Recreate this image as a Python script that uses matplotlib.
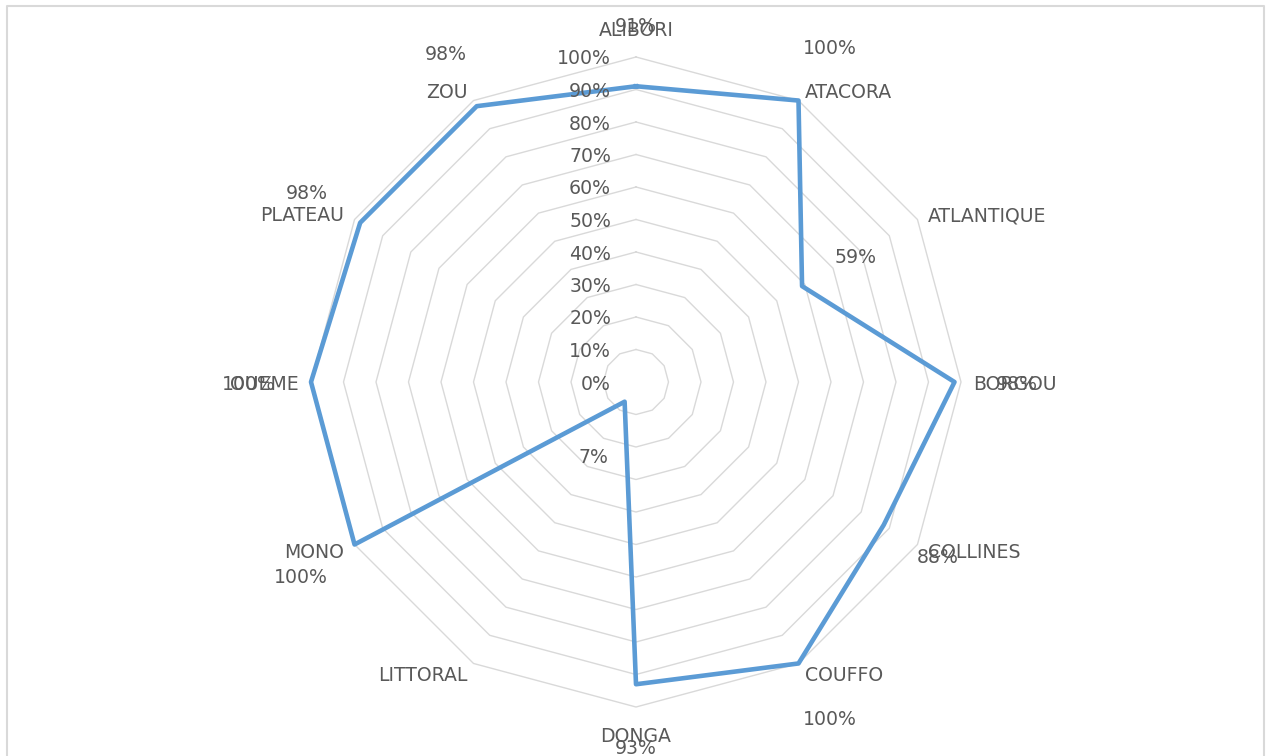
import numpy as np
import matplotlib.pyplot as plt
from matplotlib.lines import Line2D

departements = ['ALIBORI', 'ATACORA', 'ATLANTIQUE', 'BORGOU', 'COLLINES', 'COUFFO',
                'DONGA', 'LITTORAL', 'MONO', 'OUEME', 'PLATEAU', 'ZOU']
taux = [91, 100, 59, 98, 88, 100, 93, 7, 100, 100, 98, 98]
graduations = [0, 10, 20, 30, 40, 50, 60, 70, 80, 90, 100]

W, H = 1266, 756
cx, cy, R = 636, 382, 325   # centre / radius of the radar, in px

txt = '#595959'
grid = '#d9d9d9'
blue = '#5b9bd5'
fs = 13.6

fig = plt.figure(figsize=(W / 100, H / 100), dpi=100)
fig.patch.set_facecolor('white')
ax = fig.add_axes([0, 0, 1, 1])
ax.set_xlim(-cx / R, (W - cx) / R)
ax.set_ylim(-(H - cy) / R, cy / R)
ax.axis('off')

n = len(departements)
ang = np.arange(n) * 2 * np.pi / n
dx, dy = np.sin(ang), np.cos(ang)
dxc, dyc = np.append(dx, dx[0]), np.append(dy, dy[0])

# concentric 12-gon grid
for g in graduations[1:]:
    r = g / 100
    ax.plot(dxc * r, dyc * r, color=grid, lw=1, zorder=1)

# axis tick labels on the top spoke
for g in graduations:
    ax.text(-25 / R, g / 100, f'{g}%', ha='right', va='center_baseline',
            fontsize=fs, color=txt, zorder=3)

# data polygon
vals = np.array(taux) / 100
ax.plot(np.append(dx * vals, dx[0] * vals[0]), np.append(dy * vals, dy[0] * vals[0]),
        color=blue, lw=3.3, solid_joinstyle='round', zorder=2)

# category labels
for i, name in enumerate(departements):
    if abs(dx[i]) < 0.01:
        d, ha = 28 / R, 'center'
    else:
        d = 12 / R
        ha = 'left' if dx[i] > 0 else 'right'
    ax.text(dx[i] * (1 + d), dy[i] * (1 + d), name, ha=ha, va='center_baseline',
            fontsize=fs, color=txt, zorder=3)

# data labels
for i, v in enumerate(taux):
    r = v / 100 + 62 / R
    ax.text(dx[i] * r, dy[i] * r, f'{v}%', ha='center', va='center_baseline',
            fontsize=fs, color=txt, zorder=4)

# chart frame (cut at the bottom)
fig.add_artist(Line2D([6.5 / W, 6.5 / W, 1263.5 / W, 1263.5 / W],
                      [0, 1 - 5.5 / H, 1 - 5.5 / H, 0],
                      transform=fig.transFigure, color=grid, lw=1.5))

fig.savefig('out.png', dpi=100, facecolor='white')
